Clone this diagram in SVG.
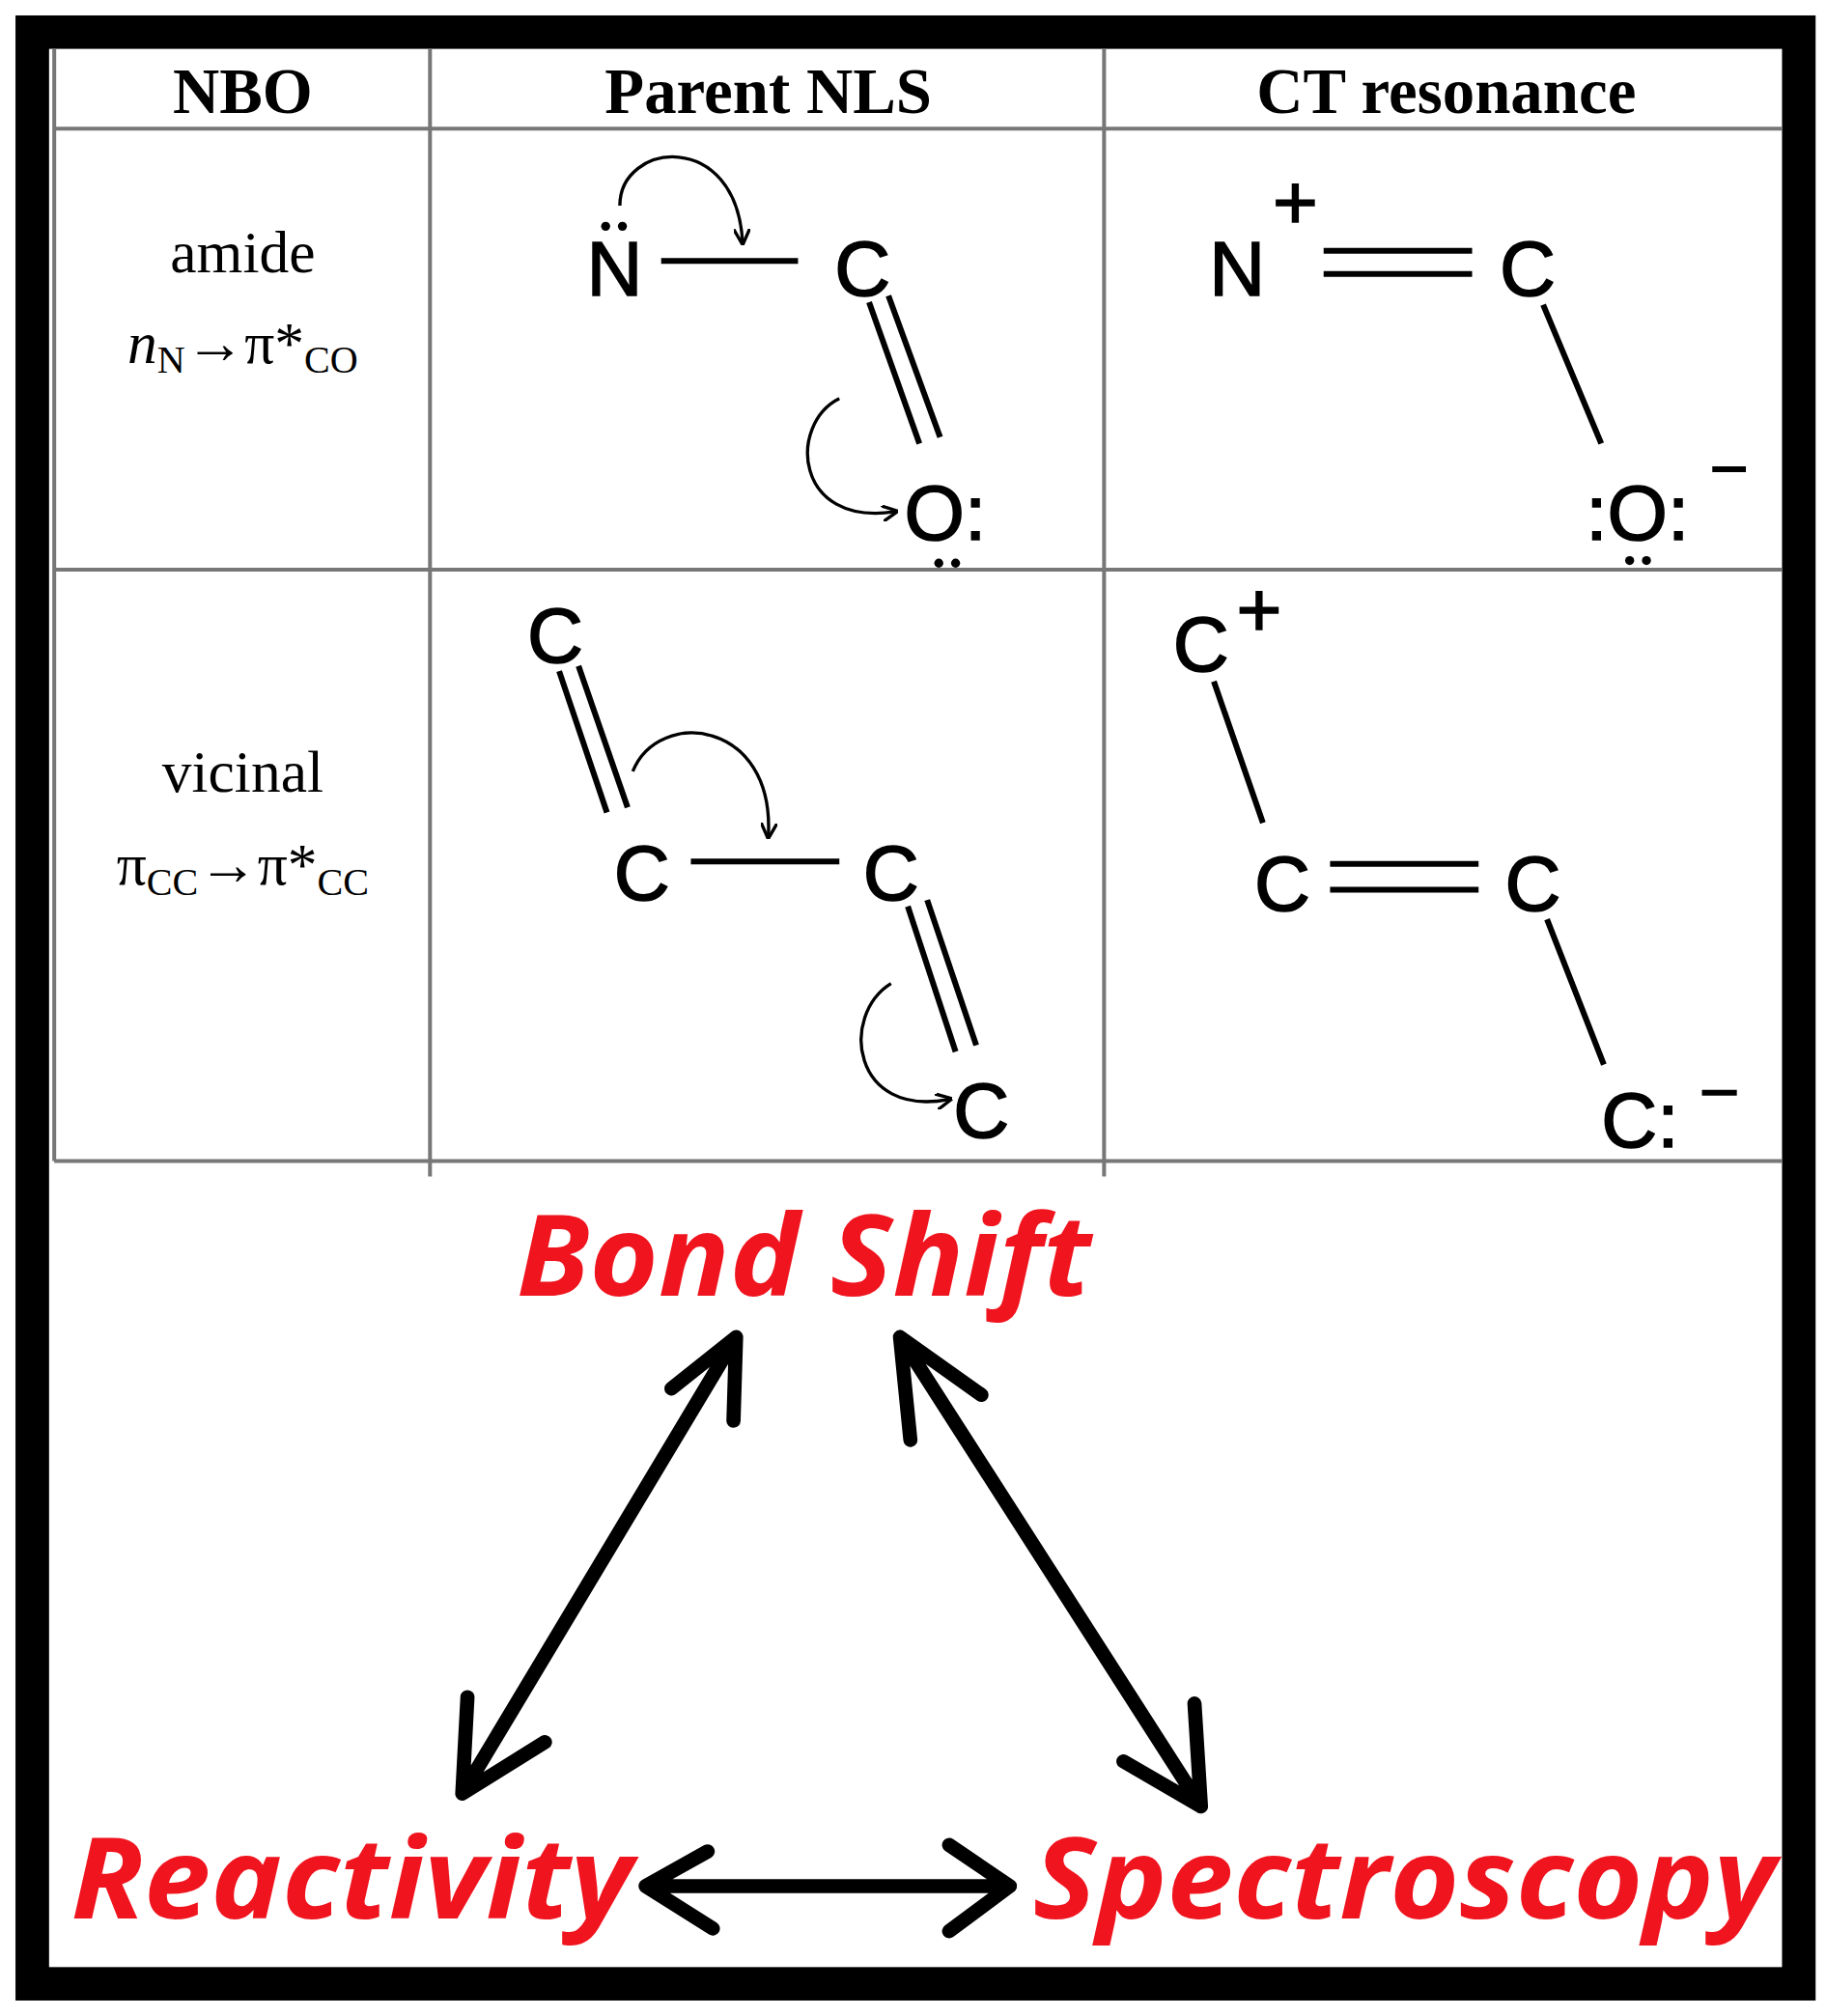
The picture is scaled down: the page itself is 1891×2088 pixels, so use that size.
<svg xmlns="http://www.w3.org/2000/svg" width="1891" height="2088" viewBox="0 0 1891 2088">
<defs>
<style>
.hd{font-family:"Liberation Serif",serif;font-weight:bold;font-size:50px;text-anchor:middle}
.sr{font-family:"Liberation Serif",serif;font-size:46px;text-anchor:middle}
.sub{font-size:30px}
.ch{font-family:"Liberation Sans",Arial,sans-serif;font-size:60px;text-anchor:middle;stroke:#000;stroke-width:1.2}
.bd{stroke:#000;stroke-width:4.5;fill:none}
.cv{stroke:#000;stroke-width:2.5;fill:none}
.grid{stroke:#777;stroke-width:3;fill:none}
.red{font-family:"Open Sans","DejaVu Sans",sans-serif;font-weight:bold;font-style:italic;fill:#f0141e}
.ar{stroke:#000;stroke-width:11;fill:none;stroke-linecap:round;stroke-linejoin:round}
</style>
<marker id="ah" viewBox="0 0 10 10" refX="8" refY="5" markerWidth="5" markerHeight="5" orient="auto"><path d="M0,0 L10,5 L0,10" fill="none" stroke="#000" stroke-width="2"/></marker>
</defs>
<rect width="1891" height="2088" fill="#fff"/>
<g transform="scale(1.3373,1.3316)">
<rect x="25" y="25" width="1368" height="1518" fill="none" stroke="#000" stroke-width="26"/>
<g id="table">
<path class="grid" d="M42 38 V903 M333 38 V915 M855 38 V915 M42 100 H1380 M42 443 H1380 M42 903 H1380"/>
<text class="hd" x="188" y="88">NBO</text>
<text class="hd" x="595" y="88">Parent NLS</text>
<text class="hd" x="1120" y="88">CT resonance</text>
<text class="sr" x="188" y="212">amide</text>
<text class="sr" x="188" y="282"><tspan font-style="italic">n</tspan><tspan class="sub" dy="8">N</tspan><tspan dy="-8">→π*</tspan><tspan class="sub" dy="8">CO</tspan></text>
<text class="sr" x="188" y="616">vicinal</text>
<text class="sr" x="188" y="688">π<tspan class="sub" dy="8">CC</tspan><tspan dy="-8">→π*</tspan><tspan class="sub" dy="8">CC</tspan></text>
</g>
<g id="amide-parent">
<text class="ch" x="476" y="230">N</text>
<circle cx="469" cy="176" r="3.5"/><circle cx="482" cy="176" r="3.5"/>
<path class="bd" d="M512 203 H618 M673 235 L712 345 M688 230 L728 340"/>
<text class="ch" x="668" y="230">C</text>
<text class="ch" x="732" y="420">O:</text>
<circle cx="727" cy="438" r="3.5"/><circle cx="740" cy="438" r="3.5"/>
<path class="cv" marker-end="url(#ah)" d="M480 160 C480 110 570 100 575 188"/>
<path class="cv" marker-end="url(#ah)" d="M650 310 C610 330 615 410 693 398"/>
</g>
<g id="amide-ct">
<text class="ch" x="958" y="230">N</text>
<text class="ch" x="1003" y="178" font-size="44">+</text>
<path class="bd" d="M1025 195 H1140 M1025 213 H1140 M1195 237 L1240 345"/>
<text class="ch" x="1268" y="420">:O:</text>
<text class="ch" x="1183" y="230">C</text>
<path class="bd" d="M1326 365 H1352"/>
<circle cx="1262" cy="436" r="3.5"/><circle cx="1275" cy="436" r="3.5"/>
</g>
<g id="vicinal-parent">
<text class="ch" x="430" y="515">C</text>
<path class="bd" d="M433 522 L470 632 M448 518 L486 628 M535 670 H650 M703 705 L740 818 M718 700 L756 813"/>
<text class="ch" x="497" y="700">C</text>
<text class="ch" x="690" y="700">C</text>
<text class="ch" x="760" y="885">C</text>
<path class="cv" marker-end="url(#ah)" d="M490 600 C510 550 600 560 595 650"/>
<path class="cv" marker-end="url(#ah)" d="M690 765 C650 790 660 870 735 855"/>
</g>
<g id="vicinal-ct">
<text class="ch" x="930" y="522">C</text>
<text class="ch" x="975" y="495" font-size="52">+</text>
<path class="bd" d="M940 530 L978 640 M1030 672 H1145 M1030 692 H1145 M1198 715 L1242 828 M1318 850 H1345"/>
<text class="ch" x="993" y="708">C</text>
<text class="ch" x="1187" y="708">C</text>
<text class="ch" x="1270" y="892">C:</text>
</g>
<g id="bond-shift"><text class="red" x="400" y="1008" font-size="88" textLength="445" lengthAdjust="spacingAndGlyphs">Bond Shift</text></g>
<g id="reactivity"><text class="red" x="55" y="1492" font-size="88" textLength="435" lengthAdjust="spacingAndGlyphs">Reactivity</text></g>
<g id="spectroscopy"><text class="red" x="800" y="1492" font-size="88" textLength="575" lengthAdjust="spacingAndGlyphs">Spectroscopy</text></g>
<g id="connectors">
<path class="ar" d="M570 1040 L358 1395 M520 1080 L570 1040 L568 1105 M358 1395 L362 1320 M358 1395 L422 1355"/>
<path class="ar" d="M697 1040 L930 1405 M697 1040 L705 1120 M697 1040 L760 1085 M930 1405 L925 1325 M930 1405 L870 1370"/>
<path class="ar" d="M500 1467 H782 M548 1440 L500 1467 L552 1500 M735 1435 L782 1467 L735 1502"/>
</g>
</g>
</svg>
